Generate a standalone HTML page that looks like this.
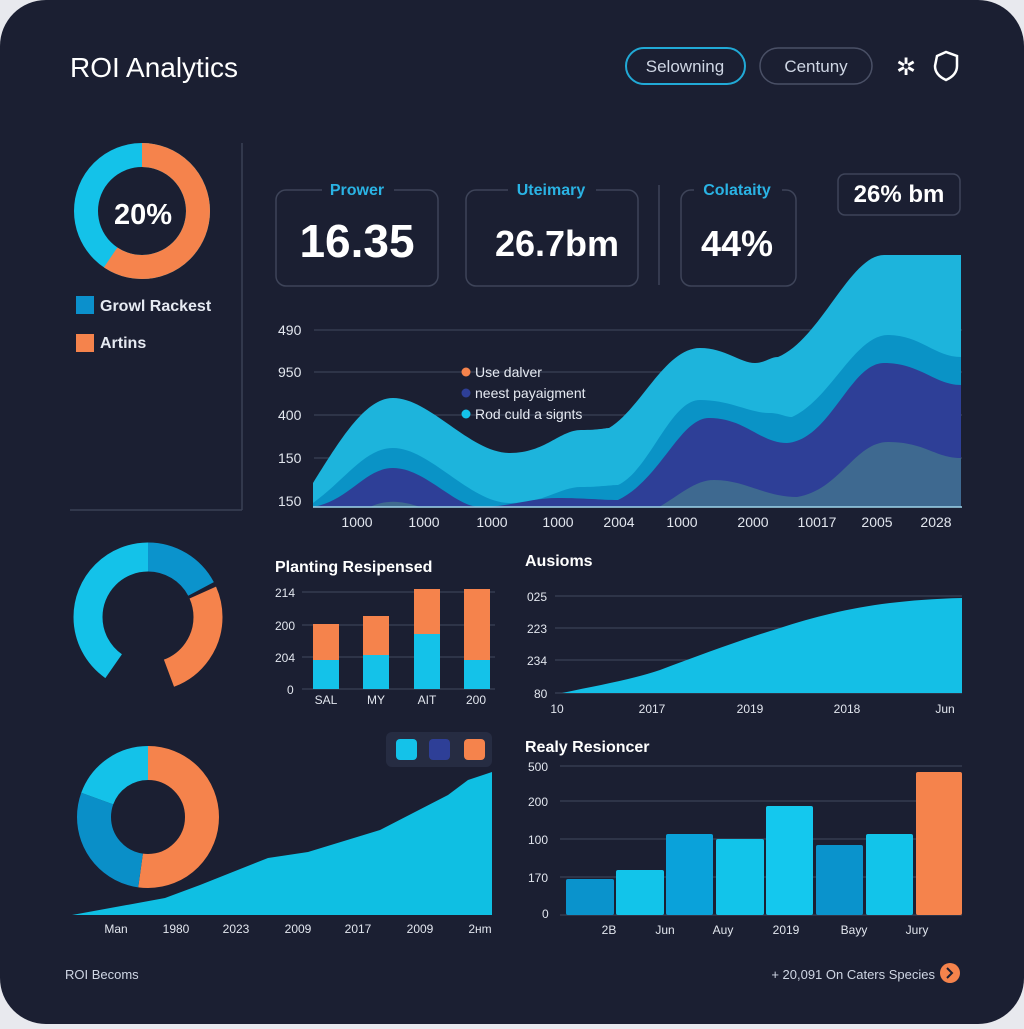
<!DOCTYPE html>
<html><head><meta charset="utf-8"><style>
html,body{margin:0;padding:0;background:#e8e9ee;}
body{width:1024px;height:1024px;overflow:hidden;font-family:"Liberation Sans",sans-serif;}
</style></head><body>
<svg width="1024" height="1024" viewBox="0 0 1024 1024" xmlns="http://www.w3.org/2000/svg" font-family="Liberation Sans, sans-serif">
<rect x="0" y="0" width="1024" height="1024" rx="46" fill="#1b1f32"/>
<!-- header -->
<text x="70" y="77" fill="#fff" font-size="28">ROI Analytics</text>
<rect x="626" y="48" width="119" height="36" rx="18" fill="none" stroke="#21a9d6" stroke-width="2"/>
<text x="685" y="72" fill="#cfd6e4" font-size="17" text-anchor="middle">Selowning</text>
<rect x="760" y="48" width="112" height="36" rx="18" fill="none" stroke="#4a5066" stroke-width="1.5"/>
<text x="816" y="72" fill="#cfd6e4" font-size="17" text-anchor="middle">Centuny</text>
<text x="906" y="75" fill="#fff" font-size="24" text-anchor="middle">✲</text>
<path d="M937 56 L946 52 L957 56 L957 66 Q957 75 946 80 Q935 75 935 66 Z" fill="none" stroke="#fff" stroke-width="2.5"/>
<!-- donut1 -->
<g transform="rotate(-90 142 211)">
<circle cx="142" cy="211" r="56" fill="none" stroke="#14c2e9" stroke-width="24"/>
<circle cx="142" cy="211" r="56" fill="none" stroke="#f5834c" stroke-width="24" stroke-dasharray="209 400"/>
</g>
<text x="143" y="224" fill="#fff" font-size="29" font-weight="bold" text-anchor="middle">20%</text>
<rect x="76" y="296" width="18" height="18" fill="#0b90cc"/>
<text x="100" y="311" fill="#e6eaf2" font-size="16" font-weight="bold">Growl Rackest</text>
<rect x="76" y="334" width="18" height="18" fill="#f5834c"/>
<text x="100" y="348" fill="#e6eaf2" font-size="16" font-weight="bold">Artins</text>
<line x1="242" y1="143" x2="242" y2="510" stroke="#3a4055" stroke-width="1.5"/>
<line x1="70" y1="510" x2="242" y2="510" stroke="#3a4055" stroke-width="1.5"/>
<!-- KPI cards -->
<rect x="276" y="190" width="162" height="96" rx="10" fill="none" stroke="#3e4459" stroke-width="1.5"/>
<rect x="322" y="180" width="72" height="18" fill="#1b1f32"/>
<text x="357" y="195" fill="#2ab3e4" font-size="16" font-weight="bold" text-anchor="middle">Prower</text>
<text x="357" y="257" fill="#fff" font-size="46" font-weight="bold" text-anchor="middle">16.35</text>
<rect x="466" y="190" width="172" height="96" rx="10" fill="none" stroke="#3e4459" stroke-width="1.5"/>
<rect x="508" y="180" width="88" height="18" fill="#1b1f32"/>
<text x="551" y="195" fill="#2ab3e4" font-size="16" font-weight="bold" text-anchor="middle">Uteimary</text>
<text x="557" y="256" fill="#fff" font-size="36" font-weight="bold" text-anchor="middle">26.7bm</text>
<line x1="659" y1="185" x2="659" y2="285" stroke="#3e4459" stroke-width="1.5"/>
<rect x="681" y="190" width="115" height="96" rx="10" fill="none" stroke="#3e4459" stroke-width="1.5"/>
<rect x="694" y="180" width="88" height="18" fill="#1b1f32"/>
<text x="737" y="195" fill="#2ab3e4" font-size="16" font-weight="bold" text-anchor="middle">Colataity</text>
<text x="737" y="256" fill="#fff" font-size="36" font-weight="bold" text-anchor="middle">44%</text>
<rect x="838" y="174" width="122" height="41" rx="7" fill="none" stroke="#3e4459" stroke-width="1.5"/>
<text x="899" y="202" fill="#fff" font-size="24" font-weight="bold" text-anchor="middle">26% bm</text>
<!-- stream chart -->
<g stroke="#3a4055" stroke-width="1.2">
<line x1="314" y1="330" x2="962" y2="330"/><line x1="314" y1="372" x2="962" y2="372"/>
<line x1="314" y1="415" x2="962" y2="415"/><line x1="314" y1="458" x2="962" y2="458"/>
</g>
<g fill="#e2e6ee" font-size="14">
<text x="278" y="335">490</text><text x="278" y="377">950</text><text x="278" y="420">400</text><text x="278" y="463">150</text><text x="278" y="506">150</text>
</g>
<path d="M313 483 C340 440 365 398 393 398 C430 398 470 453 510 453 C545 453 560 430 581 430 C600 430 605 428 609 428 C640 410 665 348 700 348 C725 348 740 363 755 363 C765 363 770 357 778 357 C820 340 850 255 884 255 L961 255 L961 507 L313 507 Z" fill="#1db4dc"/>
<path d="M313 503 C345 480 365 448 393 448 C430 448 470 503 510 503 C545 503 560 487 581 487 C600 487 610 485 618 485 C650 470 670 400 700 400 C730 400 750 413 769 413 C780 413 785 417 792 417 C830 400 855 335 888 335 C920 335 935 357 961 357 L961 507 L313 507 Z" fill="#0a93c6"/>
<path d="M313 507 C350 500 365 468 393 468 C425 468 455 507 480 507 C510 507 530 498 558 498 C585 498 600 500 618 500 C660 480 680 418 709 418 C745 418 760 443 787 443 C830 440 850 363 884 363 C920 363 935 385 961 385 L961 507 Z" fill="#2e3f97"/>
<path d="M370 507 C385 500 400 500 420 507 Z" fill="#3f6a8f"/>
<path d="M659 507 C680 495 695 480 714 480 C745 480 765 497 797 497 C840 490 855 442 888 442 C925 442 935 458 961 458 L961 507 Z" fill="#3e6990"/>
<line x1="313" y1="507" x2="962" y2="507" stroke="#9fd6ea" stroke-width="1.5"/>
<circle cx="466" cy="372" r="4.5" fill="#f5834c"/><text x="475" y="377" fill="#e6eaf2" font-size="14">Use dalver</text>
<circle cx="466" cy="393" r="4.5" fill="#2e3f97"/><text x="475" y="398" fill="#e6eaf2" font-size="14">neest payaigment</text>
<circle cx="466" cy="414" r="4.5" fill="#14c2e9"/><text x="475" y="419" fill="#e6eaf2" font-size="14">Rod culd a signts</text>
<g fill="#e2e6ee" font-size="14" text-anchor="middle">
<text x="357" y="527">1000</text><text x="424" y="527">1000</text><text x="492" y="527">1000</text><text x="558" y="527">1000</text><text x="619" y="527">2004</text><text x="682" y="527">1000</text><text x="753" y="527">2000</text><text x="817" y="527">10017</text><text x="877" y="527">2005</text><text x="936" y="527">2028</text>
</g>
<!-- donut2 -->
<g transform="rotate(-90 148 617)" fill="none" stroke-width="29">
<circle cx="148" cy="617" r="60" stroke="#0b93cc" stroke-dasharray="65 400"/>
<circle cx="148" cy="617" r="60" stroke="#f5834c" stroke-dasharray="98 400" stroke-dashoffset="-69"/>
<circle cx="148" cy="617" r="60" stroke="#14c2e9" stroke-dasharray="152 400" stroke-dashoffset="-225"/>
</g>
<!-- planting bars -->
<text x="275" y="572" fill="#fff" font-size="16" font-weight="bold">Planting Resipensed</text>
<g stroke="#3a4055" stroke-width="1.2"><line x1="302" y1="592" x2="495" y2="592"/><line x1="302" y1="625" x2="495" y2="625"/><line x1="302" y1="657" x2="495" y2="657"/><line x1="302" y1="689" x2="495" y2="689"/></g>
<g fill="#e2e6ee" font-size="12"><text x="275" y="597">214</text><text x="275" y="630">200</text><text x="275" y="662">204</text><text x="287" y="694">0</text></g>
<rect x="313" y="624" width="26" height="36" fill="#f5834c"/><rect x="313" y="660" width="26" height="29" fill="#14c2e9"/>
<rect x="363" y="616" width="26" height="39" fill="#f5834c"/><rect x="363" y="655" width="26" height="34" fill="#14c2e9"/>
<rect x="414" y="589" width="26" height="45" fill="#f5834c"/><rect x="414" y="634" width="26" height="55" fill="#14c2e9"/>
<rect x="464" y="589" width="26" height="71" fill="#f5834c"/><rect x="464" y="660" width="26" height="29" fill="#14c2e9"/>
<g fill="#e2e6ee" font-size="12" text-anchor="middle"><text x="326" y="704">SAL</text><text x="376" y="704">MY</text><text x="427" y="704">AIT</text><text x="476" y="704">200</text></g>
<!-- Ausioms -->
<text x="525" y="566" fill="#fff" font-size="16" font-weight="bold">Ausioms</text>
<g stroke="#3a4055" stroke-width="1.2"><line x1="555" y1="596" x2="962" y2="596"/><line x1="555" y1="628" x2="962" y2="628"/><line x1="555" y1="660" x2="962" y2="660"/><line x1="555" y1="693" x2="962" y2="693"/></g>
<g fill="#e2e6ee" font-size="12"><text x="527" y="601">025</text><text x="527" y="633">223</text><text x="527" y="665">234</text><text x="534" y="698">80</text></g>
<path d="M562 693 C600 685 630 680 660 670 C700 655 740 640 780 628 C830 612 880 600 962 598 L962 693 Z" fill="#14bfe6"/>
<g fill="#e2e6ee" font-size="12" text-anchor="middle"><text x="557" y="713">10</text><text x="652" y="713">2017</text><text x="750" y="713">2019</text><text x="847" y="713">2018</text><text x="945" y="713">Jun</text></g>
<!-- legend box -->
<rect x="386" y="732" width="106" height="35" rx="6" fill="#262c42"/>
<rect x="396" y="739" width="21" height="21" rx="4" fill="#14c2e9"/>
<rect x="429" y="739" width="21" height="21" rx="4" fill="#2e3f97"/>
<rect x="464" y="739" width="21" height="21" rx="4" fill="#f5834c"/>
<!-- donut3 -->
<g transform="rotate(-90 148 817)" fill="none" stroke-width="34">
<circle cx="148" cy="817" r="54" stroke="#f5834c" stroke-dasharray="177 400"/>
<circle cx="148" cy="817" r="54" stroke="#0a8fc8" stroke-dasharray="96 400" stroke-dashoffset="-177"/>
<circle cx="148" cy="817" r="54" stroke="#14c2e9" stroke-dasharray="66 400" stroke-dashoffset="-273"/>
</g>
<!-- bottom-left area -->
<path d="M72 915 L165 898 L200 885 L268 858 L308 852 L380 830 L448 795 L468 780 L492 772 L492 915 Z" fill="#0fbfe3"/>
<g fill="#e2e6ee" font-size="12" text-anchor="middle"><text x="116" y="933">Man</text><text x="176" y="933">1980</text><text x="236" y="933">2023</text><text x="298" y="933">2009</text><text x="358" y="933">2017</text><text x="420" y="933">2009</text><text x="480" y="933">2нm</text></g>
<!-- Realy Resioncer -->
<text x="525" y="752" fill="#fff" font-size="16" font-weight="bold">Realy Resioncer</text>
<g stroke="#3a4055" stroke-width="1.2"><line x1="560" y1="766" x2="962" y2="766"/><line x1="560" y1="801" x2="962" y2="801"/><line x1="560" y1="839" x2="962" y2="839"/><line x1="560" y1="877" x2="962" y2="877"/><line x1="560" y1="915" x2="962" y2="915"/></g>
<g fill="#e2e6ee" font-size="12"><text x="528" y="771">500</text><text x="528" y="806">200</text><text x="528" y="844">100</text><text x="528" y="882">170</text><text x="542" y="918">0</text></g>
<rect x="566" y="879" width="48" height="36" rx="2" fill="#0a93cc"/>
<rect x="616" y="870" width="48" height="45" rx="2" fill="#12c4ea"/>
<rect x="666" y="834" width="47" height="81" rx="2" fill="#0aa2da"/>
<rect x="716" y="839" width="48" height="76" rx="2" fill="#12c4ea"/>
<rect x="766" y="806" width="47" height="109" rx="2" fill="#14c8ee"/>
<rect x="816" y="845" width="47" height="70" rx="2" fill="#0a93cc"/>
<rect x="866" y="834" width="47" height="81" rx="2" fill="#12c4ea"/>
<rect x="916" y="772" width="46" height="143" rx="2" fill="#f5834c"/>
<g fill="#e2e6ee" font-size="12" text-anchor="middle"><text x="609" y="934">2B</text><text x="665" y="934">Jun</text><text x="723" y="934">Auy</text><text x="786" y="934">2019</text><text x="854" y="934">Bayy</text><text x="917" y="934">Jury</text></g>
<!-- footer -->
<text x="65" y="979" fill="#cfd6e4" font-size="13">ROI Becoms</text>
<text x="935" y="979" fill="#cfd6e4" font-size="13" text-anchor="end">+ 20,091 On Caters Species</text>
<circle cx="950" cy="973" r="10" fill="#f5834c"/>
<path d="M947 968 L952 973 L947 978" fill="none" stroke="#1b1f32" stroke-width="2"/>
</svg>
</body></html>
